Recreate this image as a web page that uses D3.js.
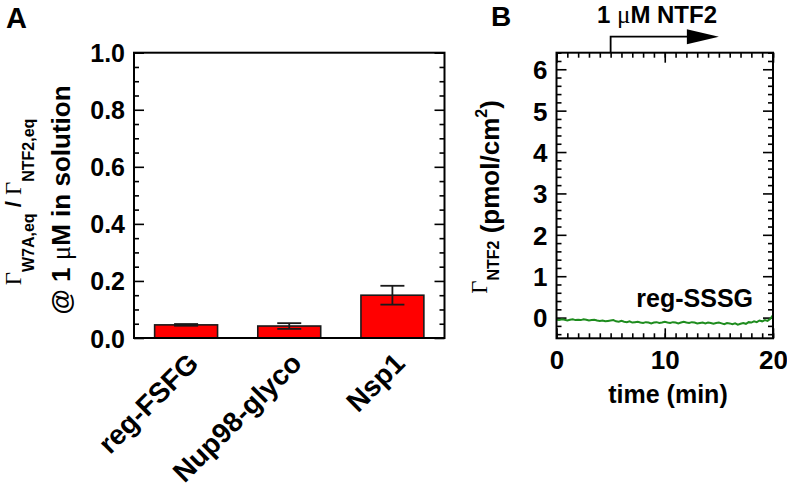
<!DOCTYPE html>
<html>
<head>
<meta charset="utf-8">
<script src="https://cdn.jsdelivr.net/npm/d3@7"></script>
<style>
  body { margin: 0; background: #fff; }
  svg text { font-family: "Liberation Sans", Arial, sans-serif; font-weight: bold; fill: #000; }
  svg .serif { font-family: "Liberation Serif", "Times New Roman", serif; font-weight: normal; }
</style>
</head>
<body>
<div id="chart"></div>
<script>
// panel A data
const categories = ['reg-FSFG', 'Nup98-glyco', 'Nsp1'];
const ratioValues = [0.046, 0.042, 0.150];
const ratioErrors = [0.003, 0.010, 0.033];
const yTicksA = [0.0, 0.2, 0.4, 0.6, 0.8, 1.0];

// panel B data (reg-SSSG trace, one sample every 0.25 min)
const traceStep = 0.25;
const sssgValues = [
  -0.05, -0.06, -0.04, -0.05, -0.07, -0.05, -0.04, -0.06, -0.05,
  -0.06, -0.04, -0.05, -0.07, -0.06, -0.05, -0.07, -0.08,
  -0.07, -0.09, -0.08, -0.07, -0.06, -0.09, -0.10, -0.08,
  -0.10, -0.11, -0.09, -0.12, -0.11, -0.10, -0.12, -0.13,
  -0.11, -0.12, -0.14, -0.12, -0.11, -0.13, -0.12, -0.10,
  -0.12, -0.13, -0.11, -0.12, -0.14, -0.12, -0.10, -0.12,
  -0.13, -0.11, -0.12, -0.14, -0.13, -0.12, -0.14, -0.12,
  -0.13, -0.15, -0.13, -0.12, -0.14, -0.16, -0.13, -0.14,
  -0.16, -0.14, -0.17, -0.15, -0.13, -0.15, -0.11, -0.12,
  -0.09, -0.11, -0.07, -0.09, -0.06, -0.08, -0.03, 0.06
];
const xTicksB = [0, 10, 20];
const yTicksB = [0, 1, 2, 3, 4, 5, 6];
const injectStart = 5, injectEnd = 15;

const W = 787, H = 496;
const svg = d3.select('#chart').append('svg').attr('width', W).attr('height', H);

function tickAxis(g, axis) {
  g.call(axis);
  g.select('.domain').remove();
  g.selectAll('.tick line').attr('stroke', '#000').attr('stroke-width', 1.6);
}

// ---------- panel A ----------
const A = { left: 134, right: 444.5, top: 52.7, bottom: 338 };

const xA = d3.scaleBand().domain(categories).range([A.left, A.right]).paddingInner(0.39).paddingOuter(0.2);
const yA = d3.scaleLinear().domain([0, 1]).range([A.bottom, A.top]);

const minorA = d3.range(0, 1.0001, 0.05).filter(v => Math.abs(v * 5 - Math.round(v * 5)) > 1e-6);

// left ticks
svg.append('g').attr('transform', `translate(${A.left},0)`)
  .call(g => tickAxis(g, d3.axisLeft(yA).tickValues(yTicksA).tickSize(-10).tickPadding(9).tickFormat(d3.format('.1f'))))
  .call(g => g.selectAll('text').style('font-size', '25px').attr('dy', '0.36em'));
svg.append('g').attr('transform', `translate(${A.left},0)`)
  .call(g => tickAxis(g, d3.axisLeft(yA).tickValues(minorA).tickSize(-5).tickFormat('')));
// right ticks
svg.append('g').attr('transform', `translate(${A.right},0)`)
  .call(g => tickAxis(g, d3.axisRight(yA).tickValues(yTicksA).tickSize(-10).tickFormat('')));
svg.append('g').attr('transform', `translate(${A.right},0)`)
  .call(g => tickAxis(g, d3.axisRight(yA).tickValues(minorA).tickSize(-5).tickFormat('')));

// bars
svg.append('g').selectAll('rect').data(categories).join('rect')
  .attr('x', d => xA(d))
  .attr('y', (d, i) => yA(ratioValues[i]))
  .attr('width', xA.bandwidth())
  .attr('height', (d, i) => yA(0) - yA(ratioValues[i]))
  .attr('fill', '#ff0000')
  .attr('stroke', '#1a1a1a')
  .attr('stroke-width', 1.6);

// error bars
const errG = svg.append('g').attr('stroke', '#1a1a1a').attr('stroke-width', 1.8);
categories.forEach((c, i) => {
  const cx = xA(c) + xA.bandwidth() / 2;
  const hi = yA(ratioValues[i] + ratioErrors[i]);
  const lo = yA(ratioValues[i] - ratioErrors[i]);
  errG.append('line').attr('x1', cx).attr('x2', cx).attr('y1', hi).attr('y2', lo);
  errG.append('line').attr('x1', cx - 12).attr('x2', cx + 12).attr('y1', hi).attr('y2', hi);
  errG.append('line').attr('x1', cx - 12).attr('x2', cx + 12).attr('y1', lo).attr('y2', lo);
});

// frame A
svg.append('rect').attr('x', A.left).attr('y', A.top)
  .attr('width', A.right - A.left).attr('height', A.bottom - A.top)
  .attr('fill', 'none').attr('stroke', '#000').attr('stroke-width', 2);

// x labels A (rotated)
svg.append('g').selectAll('text').data(categories).join('text')
  .attr('transform', d => `translate(${xA(d) + xA.bandwidth() / 2 + 14},${A.bottom + 27}) rotate(-45)`)
  .attr('text-anchor', 'end')
  .style('font-size', '28px')
  .text(d => d);

// y title A, line 1
const tA1 = svg.append('text')
  .attr('transform', `translate(21,202) rotate(-90)`)
  .attr('text-anchor', 'middle')
  .style('font-size', '22px');
tA1.append('tspan').attr('class', 'serif').style('font-size', '23px').text('Γ');
tA1.append('tspan').attr('dy', 13).style('font-size', '16px').text('W7A,eq');
tA1.append('tspan').attr('dy', -13).text(' / ');
tA1.append('tspan').attr('class', 'serif').style('font-size', '23px').text('Γ');
tA1.append('tspan').attr('dy', 13).style('font-size', '16px').text('NTF2,eq');

// y title A, line 2
const tA2 = svg.append('text')
  .attr('transform', `translate(70,200) rotate(-90)`)
  .attr('text-anchor', 'middle')
  .style('font-size', '26px');
tA2.append('tspan').text('@ 1 ');
tA2.append('tspan').attr('class', 'serif').style('font-size', '27px').text('μ');
tA2.append('tspan').text('M in solution');

svg.append('text').attr('x', 6).attr('y', 28).style('font-size', '29px').text('A');

// ---------- panel B ----------
const B = { left: 556.5, right: 773, top: 52.7, bottom: 338.3 };
const xB = d3.scaleLinear().domain([0, 20]).range([B.left, B.right]);
const yB = d3.scaleLinear().domain([-0.5, 6.4]).range([B.bottom, B.top]);

const minorXB = d3.range(0, 21, 1);
const minorYB = d3.range(-0.4, 6.41, 0.2).filter(v => Math.abs(v - Math.round(v)) > 1e-6);

// x ticks bottom/top
svg.append('g').attr('transform', `translate(0,${B.bottom})`)
  .call(g => tickAxis(g, d3.axisBottom(xB).tickValues(xTicksB).tickSize(-10).tickPadding(12).tickFormat(d3.format('d'))))
  .call(g => g.selectAll('text').style('font-size', '26px'));
svg.append('g').attr('transform', `translate(0,${B.bottom})`)
  .call(g => tickAxis(g, d3.axisBottom(xB).tickValues(minorXB).tickSize(-5).tickFormat('')));
svg.append('g').attr('transform', `translate(0,${B.top})`)
  .call(g => tickAxis(g, d3.axisTop(xB).tickValues(xTicksB).tickSize(-10).tickFormat('')));
svg.append('g').attr('transform', `translate(0,${B.top})`)
  .call(g => tickAxis(g, d3.axisTop(xB).tickValues(minorXB).tickSize(-5).tickFormat('')));

// y ticks left/right
svg.append('g').attr('transform', `translate(${B.left},0)`)
  .call(g => tickAxis(g, d3.axisLeft(yB).tickValues(yTicksB).tickSize(-10).tickPadding(9).tickFormat(d3.format('d'))))
  .call(g => g.selectAll('text').style('font-size', '26px').attr('dy', '0.36em'));
svg.append('g').attr('transform', `translate(${B.left},0)`)
  .call(g => tickAxis(g, d3.axisLeft(yB).tickValues(minorYB).tickSize(-5).tickFormat('')));
svg.append('g').attr('transform', `translate(${B.right},0)`)
  .call(g => tickAxis(g, d3.axisRight(yB).tickValues(yTicksB).tickSize(-10).tickFormat('')));
svg.append('g').attr('transform', `translate(${B.right},0)`)
  .call(g => tickAxis(g, d3.axisRight(yB).tickValues(minorYB).tickSize(-5).tickFormat('')));

// trace
const line = d3.line()
  .x((d, i) => xB(i * traceStep))
  .y(d => yB(d));
svg.append('path').datum(sssgValues)
  .attr('fill', 'none')
  .attr('stroke', '#1e8c1e')
  .attr('stroke-width', 2)
  .attr('d', line);

// frame B
svg.append('rect').attr('x', B.left).attr('y', B.top)
  .attr('width', B.right - B.left).attr('height', B.bottom - B.top)
  .attr('fill', 'none').attr('stroke', '#000').attr('stroke-width', 2);

svg.append('text').attr('x', 753).attr('y', 307)
  .attr('text-anchor', 'end').style('font-size', '25px').text('reg-SSSG');

// injection arrow
const arrowY = 36.7;
svg.append('path')
  .attr('d', `M${xB(injectStart)},${B.top} V${arrowY} H${xB(injectEnd) - 30}`)
  .attr('fill', 'none').attr('stroke', '#000').attr('stroke-width', 1.8);
svg.append('path')
  .attr('d', `M${xB(injectEnd) - 32},${arrowY - 7.5} L${xB(injectEnd)},${arrowY} L${xB(injectEnd) - 32},${arrowY + 7.5} Z`)
  .attr('fill', '#000');

const inj = svg.append('text').attr('x', 657).attr('y', 22.5)
  .attr('text-anchor', 'middle').style('font-size', '24px');
inj.append('tspan').text('1 ');
inj.append('tspan').attr('class', 'serif').style('font-size', '25px').text('μ');
inj.append('tspan').text('M NTF2');

// axis titles B
svg.append('text').attr('x', 668).attr('y', 403)
  .attr('text-anchor', 'middle').style('font-size', '25px').text('time (min)');

const tB = svg.append('text')
  .attr('transform', `translate(499,197) rotate(-90)`)
  .attr('text-anchor', 'middle')
  .style('font-size', '26px');
tB.append('tspan').attr('class', 'serif').attr('dy', -12).style('font-size', '23px').text('Γ');
tB.append('tspan').attr('dy', 12).style('font-size', '16px').text('NTF2');
tB.append('tspan').text(' (pmol/cm');
tB.append('tspan').attr('dy', -12).style('font-size', '16px').text('2');
tB.append('tspan').attr('dy', 12).text(')');

svg.append('text').attr('x', 491).attr('y', 26).style('font-size', '28px').text('B');
</script>
</body>
</html>
